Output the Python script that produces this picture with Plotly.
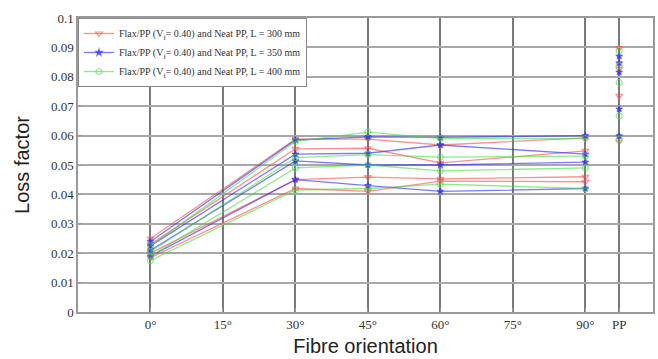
import plotly.graph_objects as go

# Fibre orientation (degrees) for connected lines
angles = [0, 30, 45, 60, 90]
pp_x = 97  # position of the neat PP column
x_tickvals = [0, 15, 30, 45, 60, 75, 90, 97]
x_ticktext = ["0°", "15°", "30°", "45°", "60°", "75°", "90°", "PP"]
y_tickvals = [0, 0.01, 0.02, 0.03, 0.04, 0.05, 0.06, 0.07, 0.08, 0.09, 0.1]
y_ticktext = ["0", "0.01", "0.02", "0.03", "0.04", "0.05", "0.06", "0.07", "0.08", "0.09", "0.1"]

# L = 300 mm (red)
red_lines = [
    [0.0250, 0.0588, 0.0588, 0.0568, 0.0592],
    [0.0230, 0.0555, 0.0557, 0.0507, 0.0548],
    [0.0200, 0.0450, 0.0459, 0.0453, 0.0460],
    [0.0185, 0.0420, 0.0410, 0.0445, 0.0443],
]
red_pp = [0.0898, 0.0827, 0.0735, 0.0580]

# L = 350 mm (blue)
blue_lines = [
    [0.0240, 0.0585, 0.0596, 0.0594, 0.0600],
    [0.0225, 0.0537, 0.0540, 0.0568, 0.0537],
    [0.0210, 0.0514, 0.0500, 0.0500, 0.0510],
    [0.0190, 0.0450, 0.0430, 0.0410, 0.0420],
]
blue_pp = [0.0870, 0.0847, 0.0816, 0.0690, 0.0599]

# L = 400 mm (green)
green_lines = [
    [0.0225, 0.0580, 0.0612, 0.0590, 0.0590],
    [0.0205, 0.0525, 0.0535, 0.0527, 0.0530],
    [0.0190, 0.0490, 0.0500, 0.0480, 0.0490],
    [0.0175, 0.0415, 0.0420, 0.0435, 0.0420],
]
green_pp = [0.0889, 0.0837, 0.0780, 0.0667, 0.0588]

series = [
    ("Flax/PP (V<sub>f</sub>= 0.40) and Neat PP, L = 300 mm", red_lines, red_pp,
     "rgba(255,70,70,0.6)", "triangle-down-open", 6),
    ("Flax/PP (V<sub>f</sub>= 0.40) and Neat PP, L = 350 mm", blue_lines, blue_pp,
     "rgba(50,50,255,0.65)", "star", 5),
    ("Flax/PP (V<sub>f</sub>= 0.40) and Neat PP, L = 400 mm", green_lines, green_pp,
     "rgba(70,220,70,0.6)", "circle-open", 6),
]

SERIF = "Liberation Serif, Times New Roman, serif"
SANS = "Liberation Sans, Arial, sans-serif"

fig = go.Figure()
for name, lines, pp, color, sym, msize in series:
    for i, ys in enumerate(lines):
        fig.add_trace(go.Scatter(
            x=angles, y=ys, mode="lines+markers", name=name,
            legendgroup=name, showlegend=(i == 0),
            line=dict(color=color, width=1.3),
            marker=dict(symbol=sym, size=msize, color=color, line=dict(color=color, width=1.2)),
        ))
    fig.add_trace(go.Scatter(
        x=[pp_x] * len(pp), y=pp, mode="markers", name=name,
        legendgroup=name, showlegend=False,
        marker=dict(symbol=sym, size=msize, color=color, line=dict(color=color, width=1.2)),
    ))

fig.update_layout(
    width=658, height=359,
    margin=dict(l=78, r=3, t=18, b=47),
    paper_bgcolor="white", plot_bgcolor="white",
    showlegend=True,
    legend=dict(
        x=0, y=1, xanchor="left", yanchor="top",
        bgcolor="white", bordercolor="#888", borderwidth=1,
        font=dict(family=SERIF, size=10, color="#333"),
        tracegroupgap=0, itemwidth=30,
    ),
    font=dict(family=SERIF, color="#333"),
)
fig.update_xaxes(
    range=[-15, 104], tickvals=x_tickvals, ticktext=x_ticktext,
    showgrid=True, gridcolor="#7a7a7a", gridwidth=1.5,
    showline=True, linecolor="#999", linewidth=1.5, mirror=True,
    ticks="inside", ticklen=4, tickcolor="#999",
    tickfont=dict(family=SERIF, size=13, color="#333"),
    title=dict(text="Fibre orientation", font=dict(family=SANS, size=20, color="#222"), standoff=8),
    zeroline=False,
)
fig.update_yaxes(
    range=[0, 0.1], tickvals=y_tickvals, ticktext=y_ticktext,
    showgrid=True, gridcolor="#a8a8a8", gridwidth=1.5,
    showline=True, linecolor="#999", linewidth=1.5, mirror=True,
    ticks="inside", ticklen=4, tickcolor="#999",
    tickfont=dict(family=SERIF, size=13, color="#333"),
    title=dict(text="Loss factor", font=dict(family=SANS, size=20, color="#222"), standoff=16),
    zeroline=False,
)

fig.write_html("out.html")
